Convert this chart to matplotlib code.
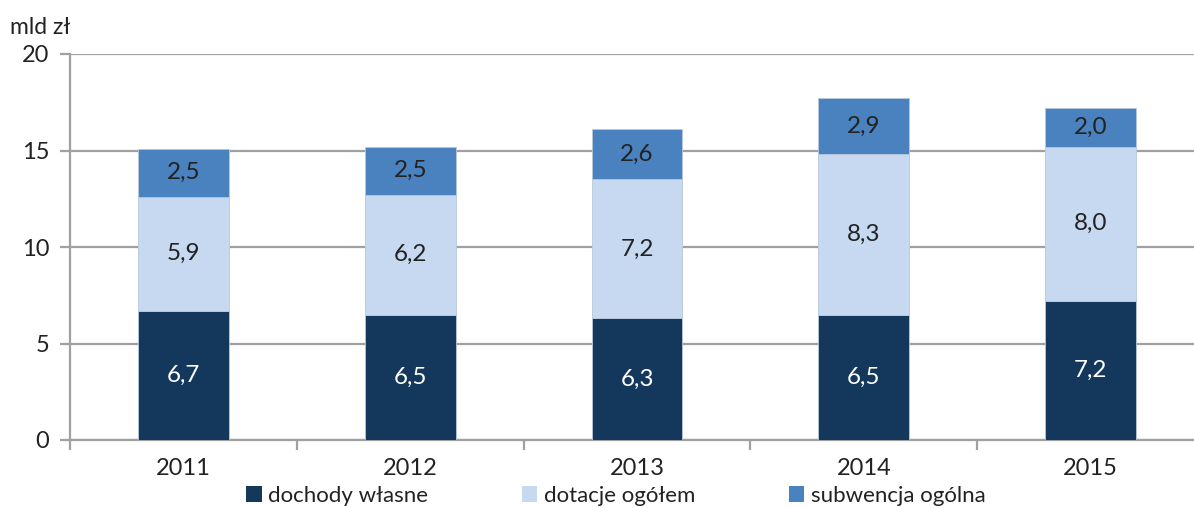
import matplotlib
matplotlib.use('Agg')
from matplotlib import pyplot
import numpy as np

years = ['2011', '2012', '2013', '2014', '2015']
dochody = [6.7, 6.5, 6.3, 6.5, 7.2]
dotacje = [5.9, 6.2, 7.2, 8.3, 8.0]
subwencja = [2.5, 2.5, 2.6, 2.9, 2.0]
series_names = ['dochody własne', 'dotacje ogółem', 'subwencja ogólna']

pyplot.rcParams['font.family'] = ['Lato', 'DejaVu Sans']

colors = ['#14375c', '#c6d9f1', '#4a81bf']
text_colors = ['white', '#222222', '#222222']

fig = pyplot.figure(figsize=(11.94, 5.08), dpi=100)
ax = fig.add_axes([70 / 1194, 68 / 508, 1134 / 1194, 386 / 508])

x = np.arange(len(years))
bottom = np.zeros(len(years))
for vals, col, tcol, name in zip([dochody, dotacje, subwencja], colors, text_colors, series_names):
    bars = ax.bar(x, vals, 0.4, bottom=bottom, color=col, label=name, zorder=3,
                  edgecolor='#b8c8dc', linewidth=0.6)
    for b, v, bt in zip(bars, vals, bottom):
        ax.text(b.get_x() + b.get_width() / 2, bt + v / 2, ('%.1f' % v).replace('.', ','),
                ha='center', va='center', fontsize=17.5, color=tcol, zorder=4)
    bottom = bottom + np.array(vals)

ax.set_xlim(-0.5, 4.5)
ax.set_ylim(0, 20)
ax.set_yticks([0, 5, 10, 15, 20])
ax.yaxis.grid(True, color='#a0a0a0', linewidth=1.6, zorder=0)
ax.set_xticks(x)
ax.set_xticklabels(years)
ax.set_xticks(np.arange(-0.5, 5, 1), minor=True)
ax.tick_params(axis='x', which='major', length=0, labelsize=17, pad=13, colors='#222222')
ax.tick_params(axis='x', which='minor', length=7, width=1.6, color='#a0a0a0')
ax.tick_params(axis='y', length=7, width=1.6, color='#a0a0a0', labelsize=17, pad=8, labelcolor='#222222')
for s in ['top', 'right']:
    ax.spines[s].set_visible(False)
ax.spines['left'].set_color('#a0a0a0')
ax.spines['left'].set_linewidth(1.6)
ax.spines['bottom'].set_color('#a0a0a0')
ax.spines['bottom'].set_linewidth(1.6)

fig.text(10 / 1194, 1 - 28 / 508, 'mld zł', fontsize=16.5, va='center', ha='left', color='#222222')

leg = fig.legend(loc='center', bbox_to_anchor=(616 / 1194, 1 - 496 / 508), ncol=3, frameon=False,
                 fontsize=16, handlelength=0.7, handleheight=0.7, handletextpad=0.3,
                 columnspacing=4.2, labelcolor='#222222')
for h in leg.legend_handles:
    h.set_edgecolor('none')

pyplot.savefig('out.png', dpi=100)
